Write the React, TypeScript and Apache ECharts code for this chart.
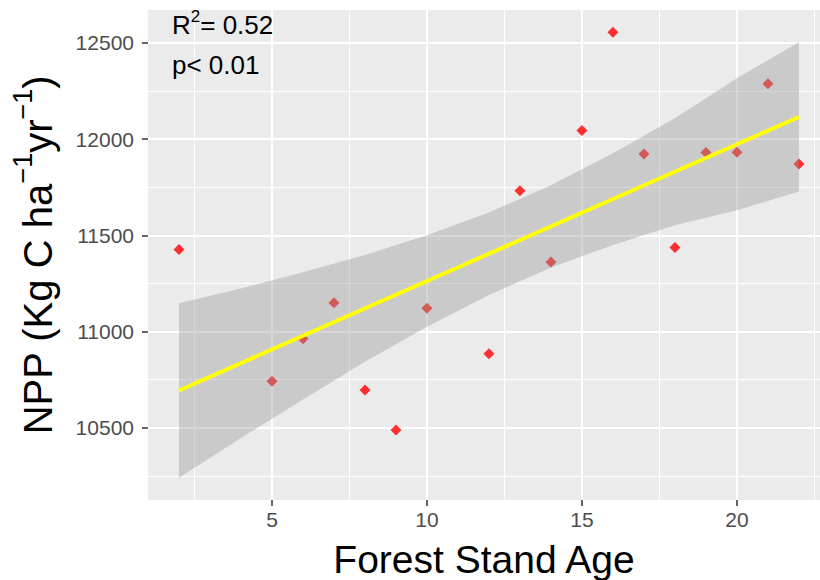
import React, { useEffect, useRef } from "react";
import * as echarts from "echarts";

// Scatter data: forest stand age (years) vs NPP
const ages = [2, 5, 6, 7, 8, 9, 10, 12, 13, 14, 15, 16, 17, 18, 19, 20, 21, 22];
const npp = [11426, 10741, 10962, 11149, 10696, 10488, 11121, 10884, 11731, 11361, 12045, 12555, 11923, 11437, 11930, 11932, 12288, 11871];

// Fitted regression line (end points)
const fitX = [2, 22];
const fitY = [10693, 12115];

// Confidence band
const bandX = [2, 4, 6, 8, 10, 12, 14, 16, 18, 20, 22];
const bandUpper = [11147, 11224, 11308, 11398, 11500, 11618, 11760, 11926, 12108, 12316, 12503];
const bandLower = [10240, 10446, 10646, 10842, 11024, 11190, 11332, 11450, 11552, 11630, 11727];

// Axis ticks / grid lines
const xMajor = [5, 10, 15, 20];
const xMinor = [2.5, 7.5, 12.5, 17.5, 22.5];
const yMajor = [10500, 11000, 11500, 12000, 12500];
const yMinor = [10250, 10750, 11250, 11750, 12250];

const xRange = [1, 22.68];
const yRange = [10124, 12671];

const FONT = "'Liberation Sans', Arial, sans-serif";

export default function App() {
  const ref = useRef<HTMLDivElement>(null);

  useEffect(() => {
    if (!ref.current) return;
    const chart = echarts.init(ref.current, null, { renderer: "svg" });

    const gridLines = [
      ...xMajor.map((v) => ({ xAxis: v, lineStyle: { width: 2 } })),
      ...xMinor.map((v) => ({ xAxis: v, lineStyle: { width: 1 } })),
      ...yMajor.map((v) => ({ yAxis: v, lineStyle: { width: 2 } })),
      ...yMinor.map((v) => ({ yAxis: v, lineStyle: { width: 1 } })),
    ];

    const option: any = {
      animation: false,
      grid: {
        left: 148,
        top: 10,
        right: 0,
        bottom: 80,
        show: true,
        backgroundColor: "#EBEBEB",
        borderWidth: 0,
        containLabel: false,
        outerBoundsMode: "none",
      },
      xAxis: {
        type: "value",
        min: xRange[0],
        max: xRange[1],
        axisLine: { show: false },
        axisTick: {
          show: true,
          length: 6,
          lineStyle: { color: "#333333", width: 1.5 },
          customValues: xMajor,
        },
        axisLabel: {
          customValues: xMajor,
          formatter: (v: number) => String(v),
          color: "#4D4D4D",
          fontSize: 21,
          fontFamily: FONT,
          margin: 9,
        },
        splitLine: { show: false },
        name: "Forest Stand Age",
        nameLocation: "middle",
        nameGap: 40,
        nameTextStyle: { fontSize: 39, color: "#000", fontFamily: FONT },
      },
      yAxis: {
        type: "value",
        min: yRange[0],
        max: yRange[1],
        axisLine: { show: false },
        axisTick: {
          show: true,
          length: 6,
          lineStyle: { color: "#333333", width: 1.5 },
          customValues: yMajor,
        },
        axisLabel: {
          customValues: yMajor,
          formatter: (v: number) => String(v),
          color: "#4D4D4D",
          fontSize: 21,
          fontFamily: FONT,
          margin: 14,
        },
        splitLine: { show: false },
        name: "{m|NPP (Kg C ha}{s|\u22121}{m|yr}{s|\u22121}{m|)}",
        nameLocation: "middle",
        nameRotate: 90,
        nameGap: 81,
        nameTextStyle: {
          rich: {
            m: { fontSize: 40, color: "#000", fontFamily: FONT, lineHeight: 58 },
            s: { fontSize: 27, color: "#000", fontFamily: FONT, verticalAlign: "top", lineHeight: 27 },
          },
        },
      },
      graphic: [
        {
          type: "text",
          left: 172,
          top: 8,
          style: {
            text: "{a|R}{s|2}{a|= 0.52}",
            rich: {
              a: { fontSize: 26, fill: "#000", fontFamily: FONT, lineHeight: 34 },
              s: { fontSize: 17, fill: "#000", fontFamily: FONT, verticalAlign: "top", lineHeight: 17 },
            },
          },
          z: 100,
        },
        {
          type: "text",
          left: 172,
          top: 52,
          style: { text: "p< 0.01", fontSize: 26, fill: "#000", fontFamily: FONT },
          z: 100,
        },
      ],
      series: [
        {
          type: "line",
          data: [],
          z: 1,
          silent: true,
          markLine: {
            silent: true,
            z: 1,
            symbol: ["none", "none"],
            label: { show: false },
            lineStyle: { color: "#FFFFFF", type: "solid" },
            data: gridLines,
          },
        },
        {
          type: "scatter",
          z: 2,
          symbol: "diamond",
          symbolSize: 11,
          itemStyle: { color: "#FF0000" },
          data: ages.map((a, i) => [a, npp[i]]),
        },
        {
          type: "custom",
          z: 3,
          silent: true,
          data: [[bandX[0], bandUpper[0]]],
          renderItem: (_params: any, api: any) => {
            const pts: number[][] = [];
            for (let i = 0; i < bandX.length; i++) pts.push(api.coord([bandX[i], bandUpper[i]]));
            for (let i = bandX.length - 1; i >= 0; i--) pts.push(api.coord([bandX[i], bandLower[i]]));
            return {
              type: "polygon",
              shape: { points: pts },
              style: { fill: "rgba(153,153,153,0.4)" },
            };
          },
        },
        {
          type: "line",
          z: 4,
          symbol: "none",
          silent: true,
          lineStyle: { color: "#FFFF00", width: 4 },
          data: fitX.map((x, i) => [x, fitY[i]]),
        },
      ],
    };

    chart.setOption(option);
    return () => chart.dispose();
  }, []);

  return (
    <div
      ref={ref}
      style={{ position: "fixed", left: 0, top: 0, width: 820, height: 580, background: "#fff" }}
    />
  );
}
